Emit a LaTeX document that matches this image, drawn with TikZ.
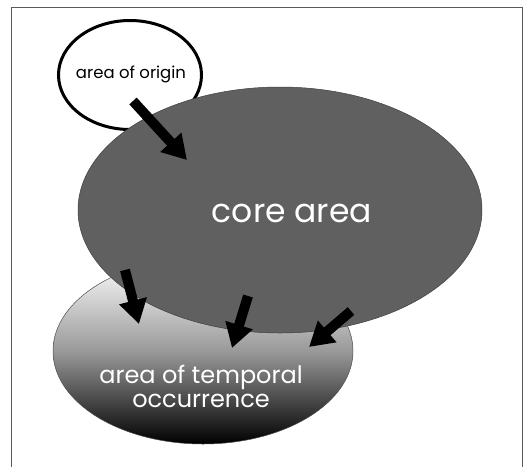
\documentclass[tikz,border=0pt]{standalone}
\usepackage{fontspec}
\setmainfont{Poppins}
\usetikzlibrary{shapes.geometric,arrows.meta}
\begin{document}
\begin{tikzpicture}[x=1pt,y=-1pt,
  blockarrow/.style={line width=10pt,-{Triangle[length=24pt,width=27pt]}},
  lbl/.style={font=\fontsize{17}{20}\selectfont, align=center}]
\useasboundingbox (0,0) rectangle (528,467);
% frame (open at bottom)
\draw[line width=1pt, gray!70!black] (11,467) -- (11,7) -- (522,7) -- (522,467);
% area of temporal occurrence
\path[top color=white, bottom color=black, middle color=gray!80, draw=gray!60!black, line width=0.5pt]
  (203,351) ellipse [x radius=150, y radius=93];
\node[ellipse, minimum width=300pt, minimum height=186pt, inner sep=0pt] (temp) at (203,351) {};
% area of origin
\node[ellipse, draw=black, line width=3pt, fill=white, minimum width=143pt, minimum height=109pt, inner sep=0pt] (orig) at (130,75) {};
% core area
\node[ellipse, fill=gray!75!black, draw=gray!50!black, line width=0.5pt, minimum width=404pt, minimum height=246pt, inner sep=0pt] (core) at (280,210) {};
% labels
\node[lbl, text=black, font=\fontsize{16.5}{20}\selectfont] (tOrig) at (131,74) {area of origin};
\node[lbl, text=white, font=\fontsize{33}{36}\selectfont] (tCore) at (292,213) {core area};
\node[lbl, text=white, font=\fontsize{24}{24}\selectfont] (tTemp) at (201,386) {area of temporal\\occurrence};
% arrows
\coordinate (a1s) at (133,101); \coordinate (a1e) at (187,160);
\coordinate (a2s) at (125,270); \coordinate (a2e) at (139,324);
\coordinate (a3s) at (248,296); \coordinate (a3e) at (232,348);
\coordinate (a4s) at (351,311); \coordinate (a4e) at (309,347);
\draw[blockarrow] (a1s) -- (a1e);
\draw[blockarrow] (a2s) -- (a2e);
\draw[blockarrow] (a3s) -- (a3e);
\draw[blockarrow] (a4s) -- (a4e);
\end{tikzpicture}
\end{document}
